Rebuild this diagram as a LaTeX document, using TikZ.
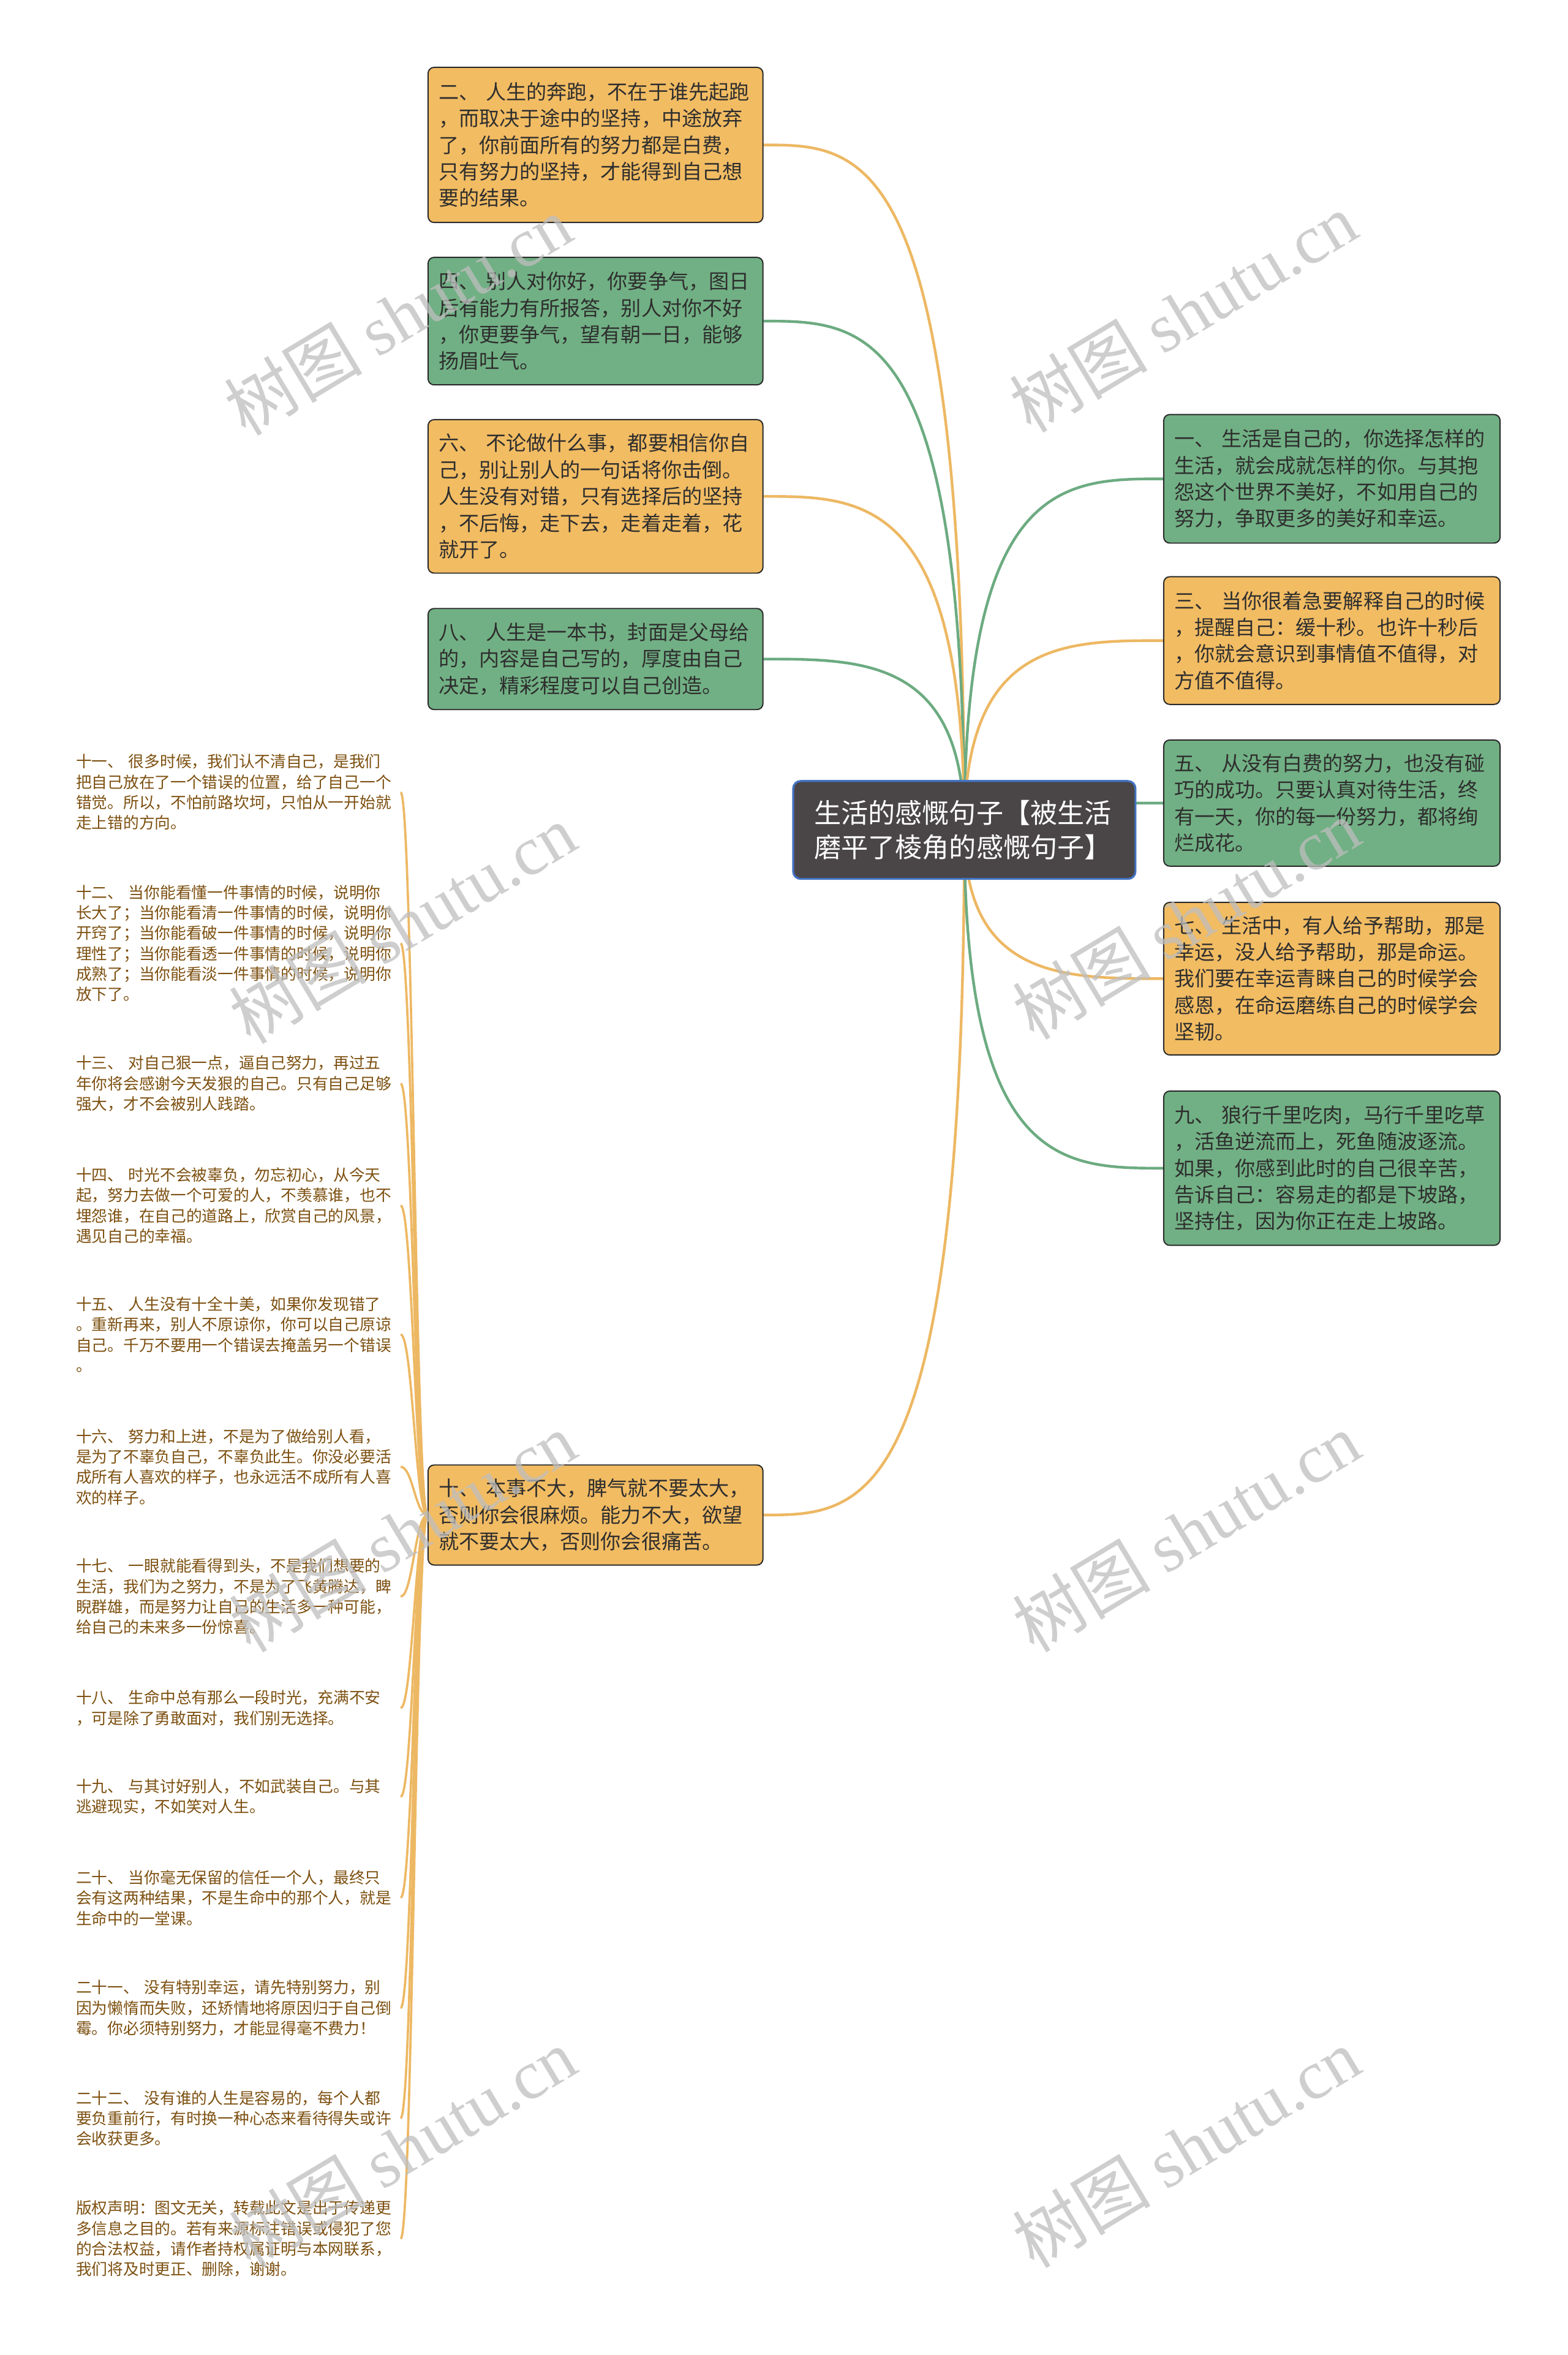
\documentclass[tikz,border=0pt]{standalone}
\usepackage{fontspec}
\setmainfont{Noto Sans CJK SC}
\newfontfamily\wmlatin{Liberation Serif}
\usetikzlibrary{calc,backgrounds}
\definecolor{orangebox}{HTML}{F2BC63}
\definecolor{greenbox}{HTML}{71B084}
\definecolor{orangeline}{HTML}{EDB863}
\definecolor{greenline}{HTML}{6CAB81}
\definecolor{boxborder}{HTML}{2A2A2A}
\definecolor{boxtext}{HTML}{2E2E2E}
\definecolor{leaftext}{HTML}{7D5010}
\definecolor{rootfill}{HTML}{4A4647}
\definecolor{rootborder}{HTML}{4374C4}
\definecolor{wmgray}{HTML}{BEBEBE}
\tikzset{
  box/.style={draw=boxborder, line width=0.8pt, rounded corners=4pt, align=left,
    inner xsep=7pt, inner ysep=0pt, font=\fontsize{13.5}{17.7}\selectfont, text=boxtext},
  lbox/.style={box, text width=209pt},
  rbox/.style={box, text width=210pt},
  olbox/.style={lbox, fill=orangebox},
  glbox/.style={lbox, fill=greenbox},
  orbox/.style={rbox, fill=orangebox},
  grbox/.style={rbox, fill=greenbox},
  rootbox/.style={draw=rootborder, line width=1.3pt, fill=rootfill, rounded corners=5pt,
    text width=200pt, inner xsep=14pt, inner ysep=0pt, align=left, minimum height=65.2pt,
    font=\fontsize{18}{22.5}\selectfont, text=white},
  leaf/.style={text width=214pt, align=left, inner xsep=2pt, inner ysep=2pt,
    font=\fontsize{10.5}{13.6}\selectfont, text=leaftext},
  oline/.style={draw=orangeline, line width=1.8pt},
  gline/.style={draw=greenline, line width=1.8pt},
  leafline/.style={draw=orangeline, line width=1.5pt},
  wm/.style={rotate=31, text=wmgray, opacity=0.75, inner sep=0pt,
    font=\fontsize{46}{50}\selectfont}
}
\newcommand{\wmtext}{树图 {\wmlatin shutu.cn}}
\begin{document}
\begin{tikzpicture}[x=1pt,y=-1pt]
\path[use as bounding box] (0,0) rectangle (1044,1568);

% root
\node[rootbox] (root) at (642.2,552.6) {生活的感慨句子【被生活\\磨平了棱角的感慨句子】};

% left boxes
\node[olbox, minimum height=103.3pt] (n2) at (396.6,96.5) {二、 人生的奔跑，不在于谁先起跑\\，而取决于途中的坚持，中途放弃\\了，你前面所有的努力都是白费，\\只有努力的坚持，才能得到自己想\\要的结果。};
\node[glbox, minimum height=84.9pt] (n4) at (396.6,213.8) {四、 别人对你好，你要争气，图日\\后有能力有所报答，别人对你不好\\，你更要争气，望有朝一日，能够\\扬眉吐气。};
\node[olbox, minimum height=102.2pt] (n6) at (396.6,330.5) {六、 不论做什么事，都要相信你自\\己，别让别人的一句话将你击倒。\\人生没有对错，只有选择后的坚持\\，不后悔，走下去，走着走着，花\\就开了。};
\node[glbox, minimum height=67.3pt] (n8) at (396.6,438.8) {八、 人生是一本书，封面是父母给\\的，内容是自己写的，厚度由自己\\决定，精彩程度可以自己创造。};
\node[olbox, minimum height=66.6pt] (n10) at (396.6,1008.7) {十、 本事不大，脾气就不要太大，\\否则你会很麻烦。能力不大，欲望\\就不要太大，否则你会很痛苦。};

% right boxes
\node[grbox, minimum height=85.6pt] (n1) at (887,318.8) {一、 生活是自己的，你选择怎样的\\生活，就会成就怎样的你。与其抱\\怨这个世界不美好，不如用自己的\\努力，争取更多的美好和幸运。};
\node[orbox, minimum height=85pt] (n3) at (887,426.5) {三、 当你很着急要解释自己的时候\\，提醒自己：缓十秒。也许十秒后\\，你就会意识到事情值不值得，对\\方值不值得。};
\node[grbox, minimum height=84pt] (n5) at (887,534.7) {五、 从没有白费的努力，也没有碰\\巧的成功。只要认真对待生活，终\\有一天，你的每一份努力，都将绚\\烂成花。};
\node[orbox, minimum height=101.6pt] (n7) at (887,651.6) {七、 生活中，有人给予帮助，那是\\幸运，没人给予帮助，那是命运。\\我们要在幸运青睐自己的时候学会\\感恩，在命运磨练自己的时候学会\\坚韧。};
\node[grbox, minimum height=102.7pt] (n9) at (887,777.8) {九、 狼行千里吃肉，马行千里吃草\\，活鱼逆流而上，死鱼随波逐流。\\如果，你感到此时的自己很辛苦，\\告诉自己：容易走的都是下坡路，\\坚持住，因为你正在走上坡路。};

% leaves
\node[leaf] (l11) at (157.6,527.5) {十一、 很多时候，我们认不清自己，是我们\\把自己放在了一个错误的位置，给了自己一个\\错觉。所以，不怕前路坎坷，只怕从一开始就\\走上错的方向。};
\node[leaf] (l12) at (157.6,628.1) {十二、 当你能看懂一件事情的时候，说明你\\长大了；当你能看清一件事情的时候，说明你\\开窍了；当你能看破一件事情的时候，说明你\\理性了；当你能看透一件事情的时候，说明你\\成熟了；当你能看淡一件事情的时候，说明你\\放下了。};
\node[leaf] (l13) at (157.6,721.5) {十三、 对自己狠一点，逼自己努力，再过五\\年你将会感谢今天发狠的自己。只有自己足够\\强大，才不会被别人践踏。};
\node[leaf] (l14) at (157.6,802.6) {十四、 时光不会被辜负，勿忘初心，从今天\\起，努力去做一个可爱的人，不羡慕谁，也不\\埋怨谁，在自己的道路上，欣赏自己的风景，\\遇见自己的幸福。};
\node[leaf] (l15) at (157.6,888.5) {十五、 人生没有十全十美，如果你发现错了\\。重新再来，别人不原谅你，你可以自己原谅\\自己。千万不要用一个错误去掩盖另一个错误\\。};
\node[leaf] (l16) at (157.6,976.6) {十六、 努力和上进，不是为了做给别人看，\\是为了不辜负自己，不辜负此生。你没必要活\\成所有人喜欢的样子，也永远活不成所有人喜\\欢的样子。};
\node[leaf] (l17) at (157.6,1063) {十七、 一眼就能看得到头，不是我们想要的\\生活，我们为之努力，不是为了飞黄腾达，睥\\睨群雄，而是努力让自己的生活多一种可能，\\给自己的未来多一份惊喜。};
\node[leaf] (l18) at (157.6,1137.2) {十八、 生命中总有那么一段时光，充满不安\\，可是除了勇敢面对，我们别无选择。};
\node[leaf] (l19) at (157.6,1196.3) {十九、 与其讨好别人，不如武装自己。与其\\逃避现实，不如笑对人生。};
\node[leaf] (l20) at (157.6,1263.6) {二十、 当你毫无保留的信任一个人，最终只\\会有这两种结果，不是生命中的那个人，就是\\生命中的一堂课。};
\node[leaf] (l21) at (157.6,1337) {二十一、 没有特别幸运，请先特别努力，别\\因为懒惰而失败，还矫情地将原因归于自己倒\\霉。你必须特别努力，才能显得毫不费力！};
\node[leaf] (l22) at (157.6,1410.4) {二十二、 没有谁的人生是容易的，每个人都\\要负重前行，有时换一种心态来看待得失或许\\会收获更多。};
\node[leaf] (l23) at (157.6,1490.6) {版权声明：图文无关，转载此文是出于传递更\\多信息之目的。若有来源标注错误或侵犯了您\\的合法权益，请作者持权属证明与本网联系，\\我们将及时更正、删除，谢谢。};

\begin{scope}[on background layer]
\fill[white] (0,0) rectangle (1044,1568);
% root connectors, left side
\foreach \c/\s in {n2/oline,n4/gline,n6/oline,n8/gline,n10/oline}{
  \draw[\s] (root.center) .. controls (root.center |- \c.east) and ($(root.center |- \c.east)!0.5!(\c.east)$) .. (\c.east);
}
% root connectors, right side
\foreach \c/\s in {n1/gline,n3/oline,n5/gline,n7/oline,n9/gline}{
  \draw[\s] (root.center) .. controls (root.center |- \c.west) and ($(root.center |- \c.west)!0.5!(\c.west)$) .. (\c.west);
}
% leaf connectors
\foreach \c in {l11,l12,l13,l14,l15,l16,l17,l18,l19,l20,l21,l22,l23}{
  \draw[leafline] (n10.west) .. controls ($(n10.west)+(-8,0)$) and ($(\c.east)+(8,0)$) .. (\c.east);
}
\end{scope}

% watermarks
\node[wm] (w1) at (265,210) {\wmtext};
\node[wm] (w2) at (788,208) {\wmtext};
\node[wm] (w3) at (268,615) {\wmtext};
\node[wm] (w4) at (790,612) {\wmtext};
\node[wm] (w5) at (268,1020) {\wmtext};
\node[wm] (w6) at (790,1020) {\wmtext};
\node[wm] (w7) at (268,1430) {\wmtext};
\node[wm] (w8) at (790,1430) {\wmtext};
\end{tikzpicture}
\end{document}
